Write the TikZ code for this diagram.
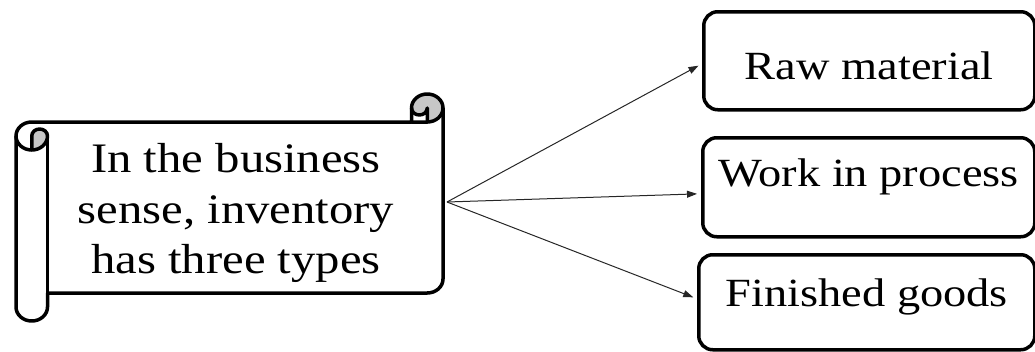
\documentclass[tikz,border=0pt]{standalone}
\usepackage{fontspec}
\setmainfont{Liberation Serif}[FakeStretch=1.16]
\usetikzlibrary{arrows.meta}
\begin{document}
\begin{tikzpicture}[x=1pt,y=-1pt,
  typebox/.style={draw, line width=3.5pt, rounded corners=14pt, inner sep=0pt,
    anchor=north west, font=\fontsize{40}{48}\selectfont},
  conn/.style={draw=black!85, line width=1pt, -{Triangle[length=10pt,width=7pt]}, shorten >=4pt},
  scrollline/.style={line width=3.5pt, line join=round, line cap=round},
  curlfill/.style={fill=black!22}]
\useasboundingbox (0,0) rectangle (1035,351);

% scroll body fill
\fill[white] (16,136) arc[start angle=180, delta angle=90, x radius=15.75, y radius=14]
  -- (411.5,122) -- (411.5,108)
  arc[start angle=180, delta angle=180, x radius=15.75, y radius=14]
  -- (443,279) arc[start angle=0, delta angle=90, x radius=15.75, y radius=14]
  -- (47.5,293) -- (47.5,307)
  arc[start angle=0, delta angle=180, x radius=15.75, y radius=14] -- cycle;
% shaded curls
\path[curlfill] (427.25,122) arc[start angle=90, delta angle=-270, x radius=15.75, y radius=14]
  arc[start angle=180, delta angle=-180, x radius=7.875, y radius=7] -- cycle;
\path[curlfill] (31.75,150) arc[start angle=90, delta angle=-90, x radius=15.75, y radius=14]
  arc[start angle=0, delta angle=-180, x radius=7.875, y radius=7] -- cycle;
% scroll outline
\draw[scrollline] (16,136) arc[start angle=180, delta angle=90, x radius=15.75, y radius=14]
  -- (411.5,122) -- (411.5,108)
  arc[start angle=180, delta angle=180, x radius=15.75, y radius=14]
  -- (443,279) arc[start angle=0, delta angle=90, x radius=15.75, y radius=14]
  -- (47.5,293) -- (47.5,307)
  arc[start angle=0, delta angle=180, x radius=15.75, y radius=14] -- cycle;
\draw[scrollline] (411.5,122) -- (427.25,122)
  arc[start angle=90, delta angle=-90, x radius=15.75, y radius=14];
\draw[scrollline] (427.25,122) -- (427.25,108)
  arc[start angle=0, delta angle=180, x radius=7.875, y radius=7];
\draw[scrollline] (31.75,150) -- (31.75,136)
  arc[start angle=180, delta angle=180, x radius=7.875, y radius=7]
  arc[start angle=0, delta angle=180, x radius=15.75, y radius=14];
\draw[scrollline] (47.5,136) -- (47.5,293);

\node[font=\fontsize{42}{50.5}\selectfont, align=center] (scrolltext) at (236,213)
  {In the business\\sense, inventory\\has three types};
\coordinate (src) at (447,202);

\node[typebox, minimum width=331pt, text height=68pt, text depth=30pt] (b1) at (702,10) {Raw material};
\node[typebox, minimum width=332pt, text height=49pt, text depth=50pt] (b2) at (701,136) {Work in process};
\node[typebox, minimum width=336pt, text height=52pt, text depth=43pt] (b3) at (697,253) {Finished goods};

\draw[conn] (src) -- ([yshift=-3pt]b1.west);
\draw[conn] (src) -- ([yshift=-6.5pt]b2.west);
\draw[conn] (src) -- ([yshift=3.5pt]b3.west);
\end{tikzpicture}
\end{document}
